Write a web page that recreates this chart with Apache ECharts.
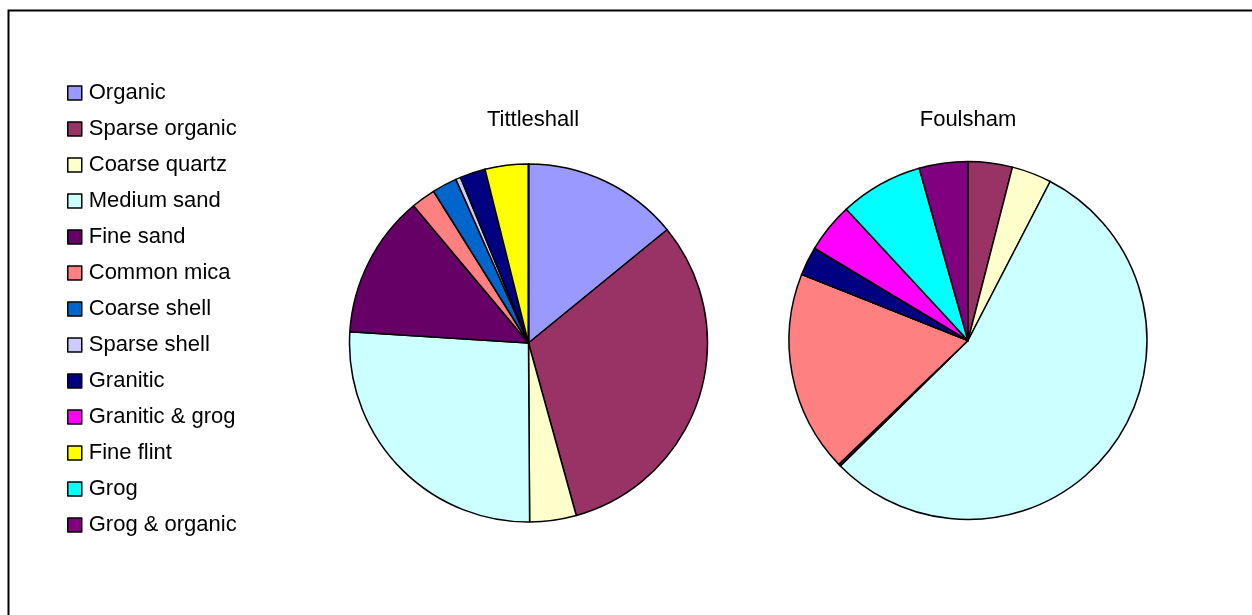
<!DOCTYPE html>
<html>
<head>
<meta charset="utf-8">
<title>Tittleshall and Foulsham fabrics</title>
<script src="https://cdn.jsdelivr.net/npm/echarts@6/dist/echarts.min.js"></script>
<style>
  html, body { margin: 0; padding: 0; background: #fff; }
  #chart { width: 1252px; height: 615px; }
</style>
</head>
<body>
<div id="chart"></div>
<script>
// Fabric groups, in legend / slice order
const fabrics = [
  'Organic', 'Sparse organic', 'Coarse quartz', 'Medium sand', 'Fine sand',
  'Common mica', 'Coarse shell', 'Sparse shell', 'Granitic', 'Granitic & grog',
  'Fine flint', 'Grog', 'Grog & organic'
];
const fabricColors = [
  '#9999FF', '#993366', '#FFFFCC', '#CCFFFF', '#660066',
  '#FF8080', '#0066CC', '#CCCCFF', '#000080', '#FF00FF',
  '#FFFF00', '#00FFFF', '#800080'
];
// Percentage of sherds per fabric at each site
const tittleshall = [14.1, 31.6, 4.2, 26.1, 12.9, 2.2, 2.25, 0.45, 2.3, 0, 3.9, 0, 0];
const foulsham    = [0, 4.0, 3.6, 55.1, 0.2, 18.2, 0, 0, 2.6, 4.5, 0, 7.5, 4.4];
const siteNames = ['Tittleshall', 'Foulsham'];

function slices(values) {
  return fabrics.map((name, i) => ({ name: name, value: values[i] }));
}

const FONT = 'Liberation Sans, Arial, sans-serif';

function pieSeries(name, values, center) {
  return {
    type: 'pie',
    name: name,
    center: center,
    radius: [0, 179],
    startAngle: 90,
    clockwise: true,
    avoidLabelOverlap: false,
    stillShowZeroSum: false,
    silent: true,
    label: { show: false },
    labelLine: { show: false },
    itemStyle: { borderColor: '#000', borderWidth: 1.5 },
    emphasis: { disabled: true },
    data: slices(values)
  };
}

const chart = echarts.init(document.getElementById('chart'), null, { renderer: 'canvas' });
chart.setOption({
  animation: false,
  color: fabricColors,
  backgroundColor: '#fff',
  title: [
    { text: siteNames[0], left: 528, top: 104, textAlign: 'center',
      textStyle: { fontFamily: FONT, fontSize: 22, fontWeight: 'normal', color: '#000' } },
    { text: siteNames[1], left: 963, top: 104, textAlign: 'center',
      textStyle: { fontFamily: FONT, fontSize: 22, fontWeight: 'normal', color: '#000' } }
  ],
  legend: {
    orient: 'vertical',
    left: 67,
    top: 82,
    padding: 0,
    icon: 'rect',
    itemWidth: 14,
    itemHeight: 14,
    itemGap: 14,
    selectedMode: false,
    data: fabrics,
    itemStyle: { borderColor: '#000', borderWidth: 1.5 },
    textStyle: { fontFamily: FONT, fontSize: 22, color: '#000', lineHeight: 22, padding: [0, 0, 0, 2] }
  },
  graphic: [
    {
      type: 'rect',
      silent: true,
      shape: { x: 8.5, y: 10.5, width: 1400, height: 800 },
      style: { fill: 'none', stroke: '#000', lineWidth: 2 }
    }
  ],
  series: [
    pieSeries(siteNames[0], tittleshall, [528.5, 343]),
    pieSeries(siteNames[1], foulsham, [968, 340.5])
  ]
});
</script>
</body>
</html>
